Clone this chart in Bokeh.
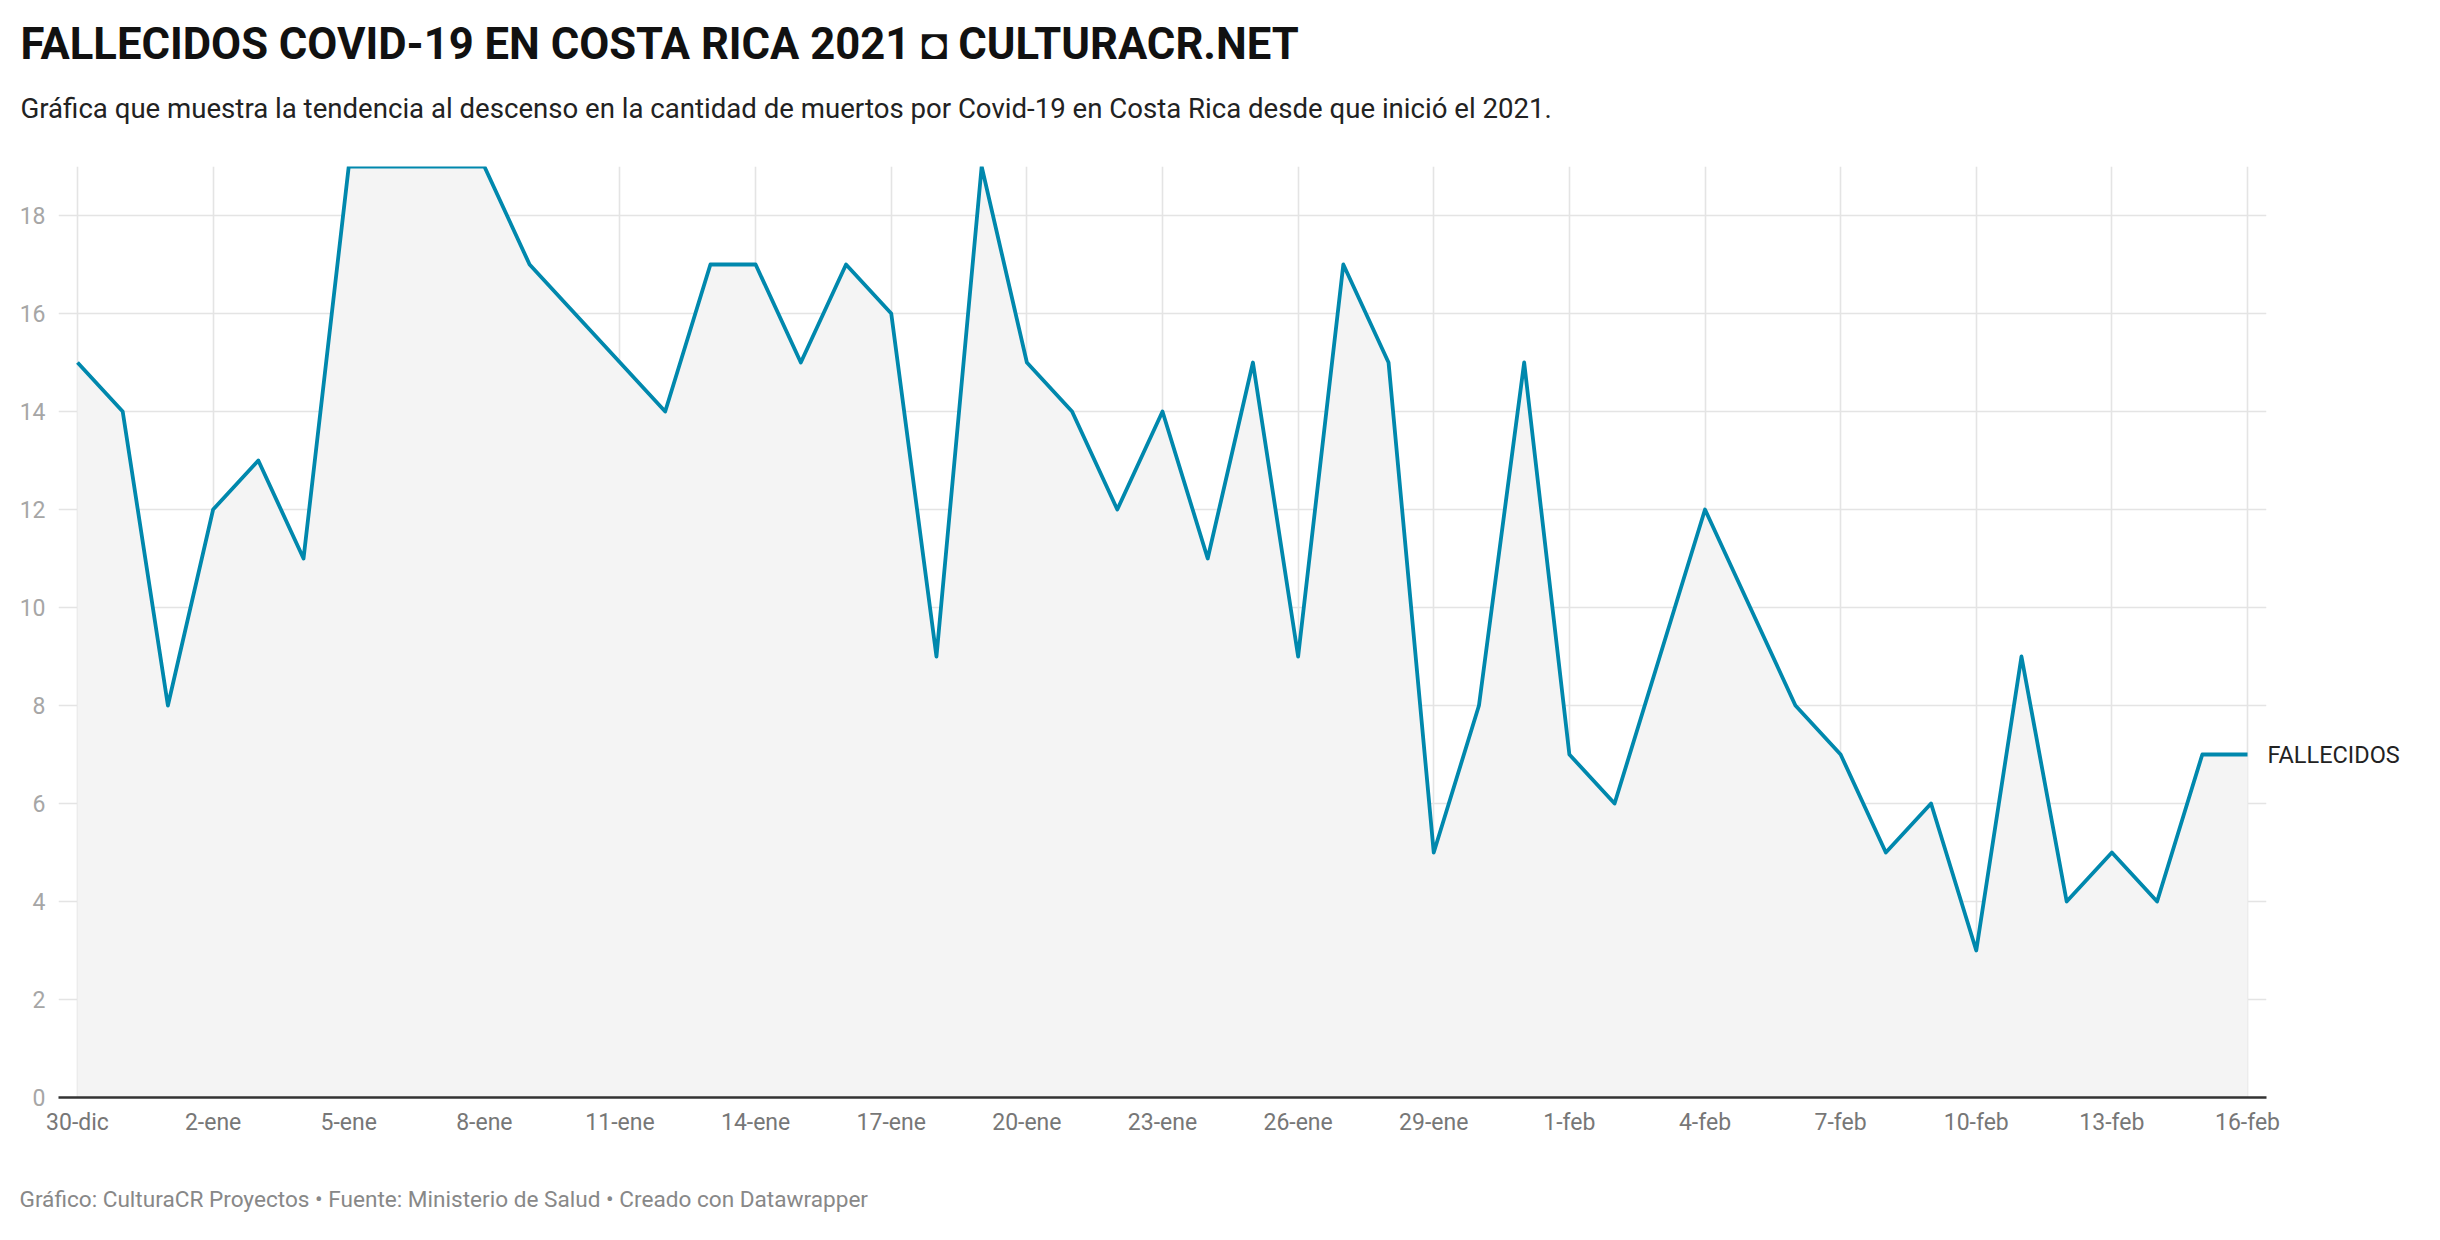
from bokeh.plotting import figure
from bokeh.models import Range1d, FixedTicker, Title, LinearAxis
from bokeh.embed import file_html
from bokeh.resources import INLINE

# ---- data ----
days = ["30-dic", "31-dic"] + [f"{d}-ene" for d in range(1, 32)] + [f"{d}-feb" for d in range(1, 17)]
fallecidos = [15, 14, 8, 12, 13, 11, 19, 19, 19, 19, 17, 16, 15, 14, 17, 17, 15, 17, 16, 9,
              19, 15, 14, 12, 14, 11, 15, 9, 17, 15, 5, 8, 15, 7, 6, 9, 12, 10, 8, 7,
              5, 6, 3, 9, 4, 5, 4, 7, 7]
tick_labels = ["30-dic", "2-ene", "5-ene", "8-ene", "11-ene", "14-ene", "17-ene", "20-ene",
               "23-ene", "26-ene", "29-ene", "1-feb", "4-feb", "7-feb", "10-feb", "13-feb", "16-feb"]
y_ticks = [0, 2, 4, 6, 8, 10, 12, 14, 16, 18]
series_name = "FALLECIDOS"
title_text = "FALLECIDOS COVID-19 EN COSTA RICA 2021 \u25d8 CULTURACR.NET"
subtitle_text = "Gráfica que muestra la tendencia al descenso en la cantidad de muertos por Covid-19 en Costa Rica desde que inició el 2021."
footer_text = "Gráfico: CulturaCR Proyectos • Fuente: Ministerio de Salud • Creado con Datawrapper"

x = list(range(len(days)))
tick_pos = [days.index(t) for t in tick_labels]

FONT = "Roboto"
W, H = 2432, 1240
p = figure(width=W, height=H, output_backend="svg", toolbar_location=None,
           x_range=Range1d(-0.42, len(days) - 1 + 0.42), y_range=Range1d(0, 19),
           min_border_left=58, min_border_right=W - 2266, min_border_top=166,
           min_border_bottom=H - 1097)
p.outline_line_color = None
p.background_fill_color = "white"
p.border_fill_color = "white"

# grid
p.xgrid.ticker = FixedTicker(ticks=tick_pos)
p.ygrid.ticker = FixedTicker(ticks=y_ticks)
for g in (p.xgrid, p.ygrid):
    g.grid_line_color = "#e4e4e4"
    g.grid_line_width = 1.6

# area + line
p.varea(x=x, y1=0, y2=fallecidos, fill_color="#f4f4f4", fill_alpha=1.0)
p.line(x=x, y=fallecidos, line_color="#0088ad", line_width=3.8, line_join="round")


def strip_axis(ax):
    ax.major_tick_line_color = None
    ax.minor_tick_line_color = None
    ax.major_tick_out = 0
    ax.major_tick_in = 0
    ax.minor_tick_out = 0
    ax.minor_tick_in = 0
    ax.major_label_text_font = FONT


# x axis
xa = p.xaxis[0]
strip_axis(xa)
xa.ticker = FixedTicker(ticks=tick_pos)
xa.major_label_overrides = {pos: lab for pos, lab in zip(tick_pos, tick_labels)}
xa.axis_line_color = "#333333"
xa.axis_line_width = 2.5
xa.major_label_text_font_size = "23px"
xa.major_label_text_color = "#777777"
xa.major_label_standoff = 11

# y axis
ya = p.yaxis[0]
strip_axis(ya)
ya.ticker = FixedTicker(ticks=y_ticks)
ya.axis_line_color = None
ya.major_label_text_font_size = "23px"
ya.major_label_text_color = "#a6a6a6"
ya.major_label_standoff = 13

# series label at line end, as a right-side axis with one tick
ra = LinearAxis(ticker=FixedTicker(ticks=[fallecidos[-1]]),
                major_label_overrides={fallecidos[-1]: series_name})
strip_axis(ra)
ra.axis_line_color = None
ra.major_label_text_font_size = "23.5px"
ra.major_label_text_color = "#222222"
ra.major_label_standoff = 1
p.add_layout(ra, "right")

# title (outermost) and subtitle (nearest to frame)
p.title = Title(text=title_text, text_font=FONT, text_font_size="43.6px",
                text_font_style="bold", text_color="#111111", align="left",
                offset=-38, standoff=-43, vertical_align="bottom")
p.add_layout(Title(text=subtitle_text, text_font=FONT, text_font_size="27.6px",
                   text_font_style="normal", text_color="#222222", align="left",
                   offset=-38, standoff=83, vertical_align="bottom"), "above")

# spacer below axis, then footer
p.add_layout(Title(text=" ", text_font=FONT, text_font_size="1px", standoff=42), "below")
p.add_layout(Title(text=footer_text, text_font=FONT, text_font_size="22.6px",
                   text_font_style="normal", text_color="#888888", align="left",
                   offset=-39, standoff=0, vertical_align="bottom"), "below")

open("out.html", "w").write(file_html(p, INLINE))
